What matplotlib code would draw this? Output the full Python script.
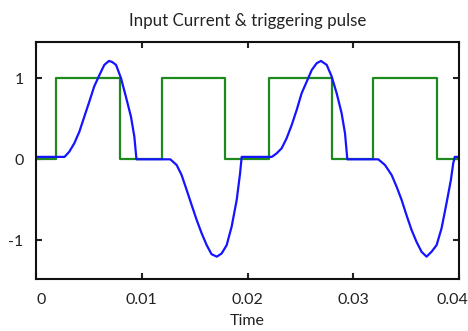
import matplotlib
matplotlib.use("Agg")
import matplotlib.pyplot as plt
import matplotlib.transforms as mtransforms

plt.rcParams['font.family'] = ['Lato', 'DejaVu Sans']

# Triggering pulse: switching instants and levels (held until next instant)
pulse_t = [0.0, 0.0019, 0.0079, 0.0119, 0.0179, 0.0220, 0.0280, 0.0319, 0.0379, 0.0400]
pulse_v = [0, 1, 0, 1, 0, 1, 0, 1, 0, 0]

# Input current samples
current_t = [0.0, 0.0027, 0.00315, 0.00362, 0.0041, 0.00457, 0.00504, 0.0055, 0.0060,
             0.00646, 0.0069, 0.0072, 0.00757, 0.00804, 0.0085, 0.00898, 0.0093, 0.0095,
             0.0127, 0.0133, 0.01377, 0.01425, 0.01472, 0.0152, 0.01567, 0.01614, 0.0166,
             0.0171, 0.01756, 0.01803, 0.0185, 0.01898, 0.0193, 0.01945,
             0.0223, 0.02276, 0.02323, 0.0237, 0.02418, 0.02465, 0.02512, 0.0256, 0.02607,
             0.02654, 0.02695, 0.02749, 0.02796, 0.02843, 0.0289, 0.02922, 0.02944,
             0.03237, 0.0330, 0.03363, 0.0341, 0.03457, 0.03504, 0.03551, 0.03599, 0.03646,
             0.03693, 0.0374, 0.03788, 0.03835, 0.03882, 0.03923, 0.03945, 0.0396, 0.0400]
current_v = [0.03, 0.03, 0.094, 0.197, 0.34, 0.526, 0.71, 0.897, 1.04,
             1.164, 1.213, 1.2, 1.164, 1.0, 0.773, 0.526, 0.28, 0.0,
             0.0, -0.07, -0.194, -0.379, -0.564, -0.75, -0.914, -1.058, -1.17,
             -1.2, -1.16, -1.058, -0.83, -0.5, -0.17, 0.03,
             0.03, 0.074, 0.136, 0.26, 0.423, 0.609, 0.815, 0.958, 1.10,
             1.185, 1.213, 1.164, 1.02, 0.815, 0.568, 0.32, 0.0,
             0.0, -0.07, -0.194, -0.338, -0.5, -0.69, -0.87, -1.02, -1.14,
             -1.2, -1.14, -1.058, -0.85, -0.54, -0.255, -0.05, 0.03, 0.03]

x_ticks = [0, 0.01, 0.02, 0.03, 0.04]
x_tick_labels = ['0', '0.01', '0.02', '0.03', '0.04']
y_ticks = [-1, 0, 1]
y_tick_labels = ['-1', '0', '1']

fig = plt.figure(figsize=(4.68, 3.31), dpi=100)
ax = fig.add_axes([0.0769, 0.156, 0.9039, 0.718])

ax.plot(pulse_t, pulse_v, drawstyle='steps-post', color='#1e8a1e', lw=1.6)
ax.plot(current_t, current_v, color='#1414ff', lw=1.6)

ax.set_xlim(0, 0.04)
ax.set_ylim(-1.48, 1.45)
ax.set_xticks(x_ticks)
ax.set_xticklabels(x_tick_labels)
ax.set_yticks(y_ticks)
ax.set_yticklabels(y_tick_labels)

ax.tick_params(direction='in', length=4, width=1.5, top=True, right=True,
               labelsize=11.5, colors='#222222')
ax.tick_params(axis='x', pad=10)
ax.tick_params(axis='y', pad=9)
for sp in ax.spines.values():
    sp.set_linewidth(1.5)
    sp.set_color('#111111')

# nudge the end labels inward
labels = ax.get_xticklabels()
labels[0].set_transform(labels[0].get_transform() +
                        mtransforms.ScaledTranslation(5 / 100, 0, fig.dpi_scale_trans))
labels[-1].set_transform(labels[-1].get_transform() +
                         mtransforms.ScaledTranslation(-7 / 100, 0, fig.dpi_scale_trans))

ax.set_title('Input Current & triggering pulse', fontsize=12.2, color='#222222', pad=11)
ax.set_xlabel('Time', fontsize=11.5, color='#222222', labelpad=5)

fig.savefig('out.png', dpi=100)
